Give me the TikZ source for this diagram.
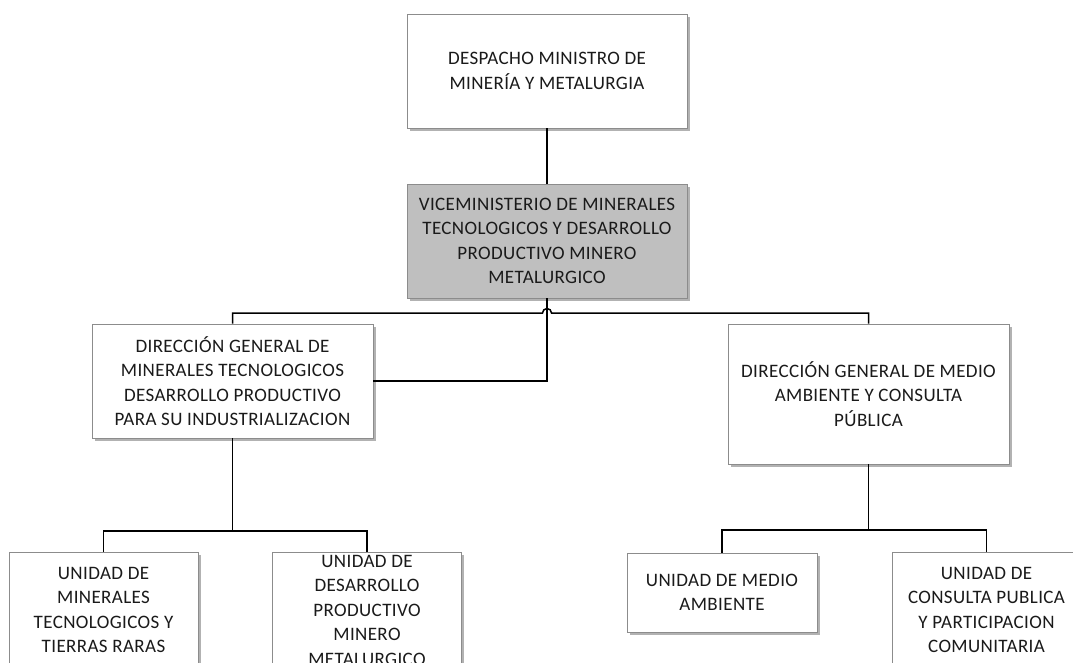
\documentclass[tikz,border=0pt]{standalone}
\usepackage{fontspec}
\setmainfont{Carlito}[LetterSpace=2]
\usetikzlibrary{shadows}
\definecolor{boxgray}{HTML}{BFBFBF}
\definecolor{edgegray}{HTML}{8C8C8C}
\definecolor{txt}{HTML}{1A1A1A}
\begin{document}
\begin{tikzpicture}[x=1pt,y=1pt,
  orgbox/.style={rectangle, draw=edgegray, line width=0.8pt, fill=white,
    align=center, text=txt, inner sep=0pt,
    font=\fontsize{19}{24.5}\selectfont,
    drop shadow={shadow xshift=2.5pt, shadow yshift=-2.5pt, opacity=0.3, fill=black}},
  conn/.style={draw=black, line width=1.5pt}]
\useasboundingbox (0,0) rectangle (1073,-662);
\clip (0,0) rectangle (1073,-662);

\node[orgbox, minimum width=280pt, minimum height=114pt] (top) at (547,-71)
  {DESPACHO MINISTRO DE\\MINERÍA Y METALURGIA};
\node[orgbox, fill=boxgray, minimum width=280pt, minimum height=114pt] (vice) at (547,-241)
  {VICEMINISTERIO DE MINERALES\\TECNOLOGICOS Y DESARROLLO\\PRODUCTIVO MINERO\\METALURGICO};
\node[orgbox, minimum width=281pt, minimum height=114pt] (L) at (232.5,-381)
  {DIRECCIÓN GENERAL DE\\MINERALES TECNOLOGICOS\\DESARROLLO PRODUCTIVO\\PARA SU INDUSTRIALIZACION};
\node[orgbox, minimum width=281pt, minimum height=140pt] (R) at (868.5,-394)
  {DIRECCIÓN GENERAL DE MEDIO\\AMBIENTE Y CONSULTA\\PÚBLICA};
\node[orgbox, minimum width=189pt, minimum height=116pt] (c1) at (103.5,-610)
  {UNIDAD DE\\MINERALES\\TECNOLOGICOS Y\\TIERRAS RARAS};
\node[orgbox, minimum width=189pt, minimum height=116pt] (c2) at (367,-610)
  {UNIDAD DE\\DESARROLLO\\PRODUCTIVO\\MINERO\\METALURGICO};
\node[orgbox, minimum width=190pt, minimum height=79pt] (c3) at (722,-592.5)
  {UNIDAD DE MEDIO\\AMBIENTE};
\node[orgbox, minimum width=189pt, minimum height=116pt] (c4) at (986.5,-610)
  {UNIDAD DE\\CONSULTA PUBLICA\\Y PARTICIPACION\\COMUNITARIA};

\coordinate (hop) at (547,-313);
\coordinate (lbus) at (232.5,-531);
\coordinate (rbus) at (868.5,-530);

\draw[conn] (top.south) -- (vice.north);
\draw[conn] (vice.south) |- (L.east);
\draw[conn] (L.north) |- ([xshift=-4.5pt]hop) arc[start angle=180, end angle=0, radius=4.5pt] -- (R.north |- hop) -- (R.north);
\draw[conn] (L.south) -- (lbus);
\draw[conn] (c1.north) |- (lbus) -| (c2.north);
\draw[conn] (R.south) -- (rbus);
\draw[conn] (c3.north) |- (rbus) -| (c4.north);
\end{tikzpicture}
\end{document}
